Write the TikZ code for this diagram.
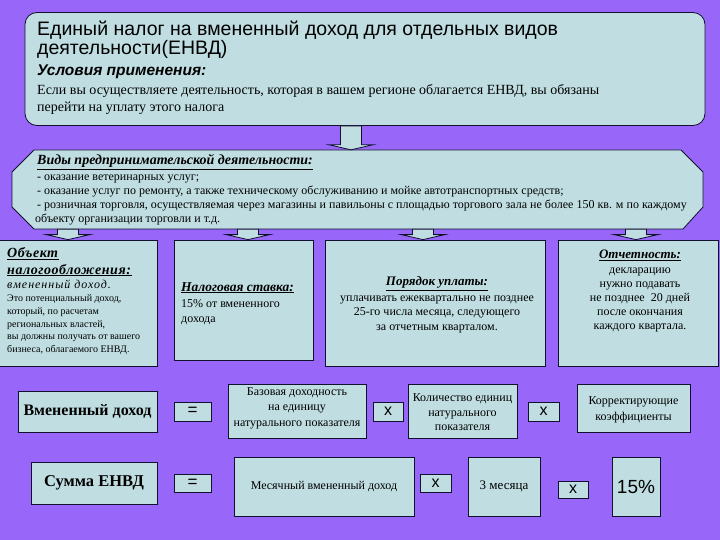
\documentclass[tikz,border=0pt]{standalone}
\usepackage{fontspec}
\setmainfont{Liberation Serif}
\setsansfont{Liberation Sans}
\usetikzlibrary{calc}
\definecolor{bgviolet}{RGB}{153,102,250}
\definecolor{boxfill}{RGB}{192,222,226}
\definecolor{edge}{RGB}{16,16,48}
\newcommand{\hd}[1]{\underline{\textbf{\textit{#1}}}}
\newcommand{\fsz}[1]{\fontsize{#1}{1.2\dimexpr#1pt\relax}\selectfont}

\begin{document}
\begin{tikzpicture}[x=1pt,y=-1pt,
  panel/.style={draw=edge,fill=boxfill,line width=0.8pt,inner sep=0pt},
  cell/.style={panel,rectangle,align=center},
  txt/.style={inner sep=0pt,anchor=base west},
  block/.style={inner sep=0pt,align=center},
  barrow/.style={panel,to path={
    ($(\tikztostart)+(-10.5,0)$) -- ($(\tikztotarget)+(-10.5,-5)$)
    -- ($(\tikztotarget)+(-22,-5)$) -- (\tikztotarget)
    -- ($(\tikztotarget)+(22,-5)$) -- ($(\tikztotarget)+(10.5,-5)$)
    -- ($(\tikztostart)+(10.5,0)$) -- cycle}}]
  \fill[bgviolet] (0,0) rectangle (720,540);
  \useasboundingbox (0,0) rectangle (720,540);

  \node[panel,rounded corners=12pt,minimum width=680pt,minimum height=113pt] (top) at (365,69) {};
  \node[txt,font=\sffamily\fsz{19.5}] (title1) at (37,36) {Единый налог на вмененный доход для отдельных видов};
  \node[txt,font=\sffamily\fsz{19.5}] (title2) at (37,55) {деятельности(ЕНВД)};
  \node[txt,font=\sffamily\bfseries\itshape\fsz{15.5}] (cond) at (37,76) {Условия применения:};
  \node[txt,font=\fsz{14}] (cond1) at (37,94.5) {Если вы осуществляете деятельность, которая в вашем регионе облагается ЕНВД, вы обязаны};
  \node[txt,font=\fsz{14}] (cond2) at (37,111.5) {перейти на уплату этого налога};

  \draw[panel] (12,172) -- (34,150) -- (681,150) -- (703,172) -- (703,207)
    -- (683,229) -- (34,229) -- (12,207) -- cycle;
  \node[inner sep=0pt,minimum width=691pt,minimum height=79pt] (kinds) at (357.5,189.5) {};
  \node[txt,font=\fsz{14}] (kindshead) at (37,164.5) {\hd{Виды предпринимательской деятельности:}};
  \node[txt,font=\fsz{12}] (kind1) at (37,181) {- оказание ветеринарных услуг;};
  \node[txt,font=\fsz{12}] (kind2) at (37,195) {- оказание услуг по ремонту, а также техническому обслуживанию и мойке автотранспортных средств;};
  \node[txt,font=\fsz{12}] (kind3) at (37,209) {- розничная торговля, осуществляемая через магазины и павильоны с площадью торгового зала не более 150 кв. м по каждому};
  \node[txt,font=\fsz{12}] (kind4) at (35,222.5) {объекту организации торговли и т.д.};

  \draw[barrow] (top.south -| 351,0) to (kinds.north -| 351,0);

  \node[cell,minimum width=159pt,minimum height=126pt] (obj) at (77.5,303) {};
  \node[cell,minimum width=139pt,minimum height=120pt] (rate) at (243.5,300) {};
  \node[cell,minimum width=220pt,minimum height=126pt] (order) at (435,303) {};
  \node[cell,minimum width=160pt,minimum height=126pt] (report) at (638,303) {};

  \coordinate (a1) at (68,0);
  \coordinate (a2) at (248,0);
  \coordinate (a3) at (423,0);
  \coordinate (a4) at (636,0);
  \draw[barrow] (kinds.south -| a1) to (obj.north -| a1);
  \draw[barrow] (kinds.south -| a2) to (rate.north -| a2);
  \draw[barrow] (kinds.south -| a3) to (order.north -| a3);
  \draw[barrow] (kinds.south -| a4) to (report.north -| a4);

  \node[txt,font=\fsz{14}\addfontfeatures{LetterSpace=4}] (objhead1) at (7,258) {\hd{Объект}};
  \node[txt,font=\fsz{14}\addfontfeatures{LetterSpace=4}] (objhead2) at (7,274) {\hd{налогообложения:}};
  \node[txt,font=\itshape\fsz{12}\addfontfeatures{LetterSpace=8}] (objbase) at (7,288) {вмененный доход.};
  \node[block,align=left,anchor=north west,font=\fontsize{10}{12.8}\selectfont] (objtext) at (7,294.5)
    {Это потенциальный доход,\\который, по расчетам\\ региональных властей,\\ вы должны получать от вашего\\ бизнеса, облагаемого ЕНВД.};

  \node[txt,font=\fsz{13.5}] (ratehead) at (181,291) {\hd{Налоговая ставка:}};
  \node[txt,font=\fsz{12}] (rate1) at (181,307) {15\% от вмененного};
  \node[txt,font=\fsz{12}] (rate2) at (181,322) {дохода};

  \node[block,font=\fsz{13}] (orderhead) at (437,283.5) {\hd{Порядок уплаты:}};
  \node[block,font=\fontsize{12}{14.5}\selectfont] (ordertext) at (437,314)
    {уплачивать ежеквартально не позднее\\25-го числа месяца, следующего\\за отчетным кварталом.};

  \node[block,font=\fsz{13}] (reporthead) at (640,255.5) {\hd{Отчетность:}};
  \node[block,font=\fontsize{12}{14.2}\selectfont] (reporttext) at (640,300)
    {декларацию\\нужно подавать\\не позднее~ 20 дней\\после окончания\\каждого квартала.};

  \node[cell,minimum width=139pt,minimum height=41pt,font=\bfseries\fsz{16}] (imputed) at (87.5,411.5) {Вмененный доход};
  \node[cell,minimum width=37pt,minimum height=19pt,font=\sffamily\fsz{17}] (eq1) at (192.5,411.5) {=};
  \node[cell,minimum width=138pt,minimum height=54pt] (baseinc) at (297,411) {};
  \node[block,font=\fontsize{12}{15.5}\selectfont] (baseinctext) at ($(baseinc.center)+(0,-3)$)
    {Базовая доходность\\на единицу\\натурального показателя};
  \node[cell,minimum width=30pt,minimum height=19pt,font=\sffamily\fsz{16}] (x1) at (388,411.5) {х};
  \node[cell,minimum width=109pt,minimum height=54pt] (units) at (462.5,411) {};
  \node[block,font=\fontsize{12}{14.5}\selectfont] (unitstext) at ($(units.center)+(0,1.5)$)
    {Количество единиц\\натурального\\показателя};
  \node[cell,minimum width=31pt,minimum height=19pt,font=\sffamily\fsz{16}] (x2) at (543.5,411.5) {х};
  \node[cell,minimum width=113pt,minimum height=48pt] (coef) at (633.5,408) {};
  \node[block,font=\fontsize{12}{16}\selectfont] (coeftext) at ($(coef.center)+(0,1.5)$)
    {Корректирующие\\коэффициенты};

  \node[cell,minimum width=126pt,minimum height=42pt,font=\bfseries\fsz{16.5}] (tax) at (94,483) {Сумма ЕНВД};
  \node[cell,minimum width=37pt,minimum height=18pt,font=\sffamily\fsz{17}] (eq2) at (192.5,483) {=};
  \node[cell,minimum width=180pt,minimum height=59pt,font=\fsz{12}] (monthly) at (324,486.5) {Месячный вмененный доход};
  \node[cell,minimum width=31pt,minimum height=18pt,font=\sffamily\fsz{16}] (x3) at (435.5,483) {х};
  \node[cell,minimum width=72pt,minimum height=59pt,font=\fsz{13}] (months) at (504,486.5) {3 месяца};
  \node[cell,minimum width=30pt,minimum height=17pt,font=\sffamily\fsz{16}] (x4) at (573,489.5) {х};
  \node[cell,minimum width=48pt,minimum height=59pt,font=\sffamily\fsz{19}] (pct) at (636,486.5) {15\%};
\end{tikzpicture}
\end{document}
